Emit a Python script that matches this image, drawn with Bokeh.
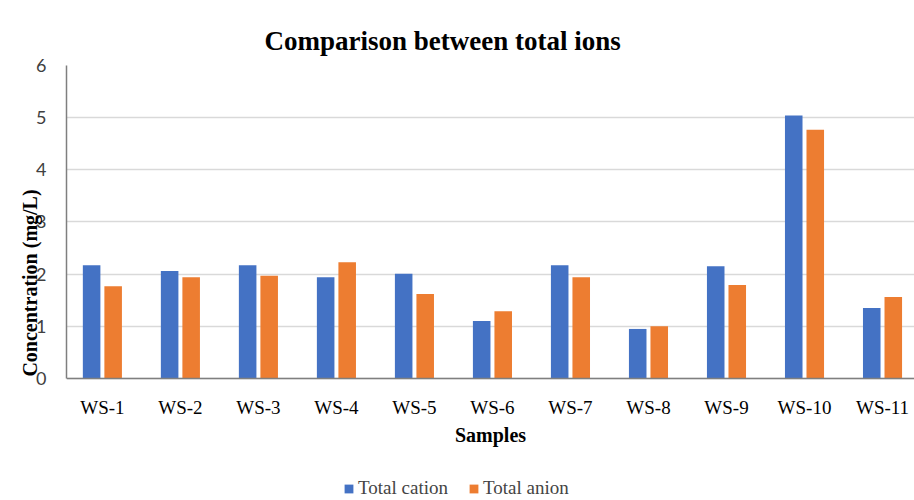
import numpy as np
from bokeh.plotting import figure
from bokeh.models import Range1d, FixedTicker, Legend, LegendItem, ColumnDataSource
from bokeh.transform import dodge
from bokeh.embed import file_html
from bokeh.resources import INLINE

samples = ["WS-1", "WS-2", "WS-3", "WS-4", "WS-5", "WS-6", "WS-7", "WS-8", "WS-9", "WS-10", "WS-11"]
total_cation = [2.17, 2.06, 2.17, 1.94, 2.01, 1.10, 2.17, 0.95, 2.15, 5.04, 1.35]
total_anion = [1.77, 1.94, 1.97, 2.23, 1.62, 1.29, 1.94, 1.00, 1.79, 4.77, 1.56]
y_ticks = [0, 1, 2, 3, 4, 5, 6]

BLUE = "#4472C4"
ORANGE = "#ED7D31"
SERIF = "Liberation Serif"

idx = np.arange(len(samples))
src = ColumnDataSource(dict(x=idx, cation=total_cation, anion=total_anion))

# frame runs from the plot top down to the page bottom, so the legend can sit inside it
p = figure(frame_width=848, frame_height=435, x_range=Range1d(-0.46, 10.41), y_range=Range1d(-2.3387, 6),
           output_backend="svg", toolbar_location=None,
           min_border_left=66, min_border_right=0, min_border_top=65, min_border_bottom=0)

r1 = p.vbar(x=dodge("x", -0.138), top="cation", width=0.225, source=src, fill_color=BLUE, line_color=None)
r2 = p.vbar(x=dodge("x", 0.138), top="anion", width=0.225, source=src, fill_color=ORANGE, line_color=None)

p.title.text = "Comparison between total ions"
p.title.text_font = SERIF
p.title.text_font_size = "27px"
p.title.text_font_style = "bold"
p.title.text_color = "#000000"
p.title.align = "left"
p.title.vertical_align = "top"
p.title.offset = 198
p.title.standoff = 16

p.outline_line_color = None
p.xgrid.grid_line_color = None
p.ygrid.grid_line_color = "#d9d9d9"
p.ygrid.grid_line_width = 1.5
p.ygrid.ticker = FixedTicker(ticks=y_ticks)

p.yaxis.ticker = FixedTicker(ticks=y_ticks)
p.yaxis.bounds = (0, 6)
p.yaxis.axis_label = "Concentration (mg/L)"
p.yaxis.axis_label_text_font = SERIF
p.yaxis.axis_label_text_font_style = "bold"
p.yaxis.axis_label_text_font_size = "20px"
p.yaxis.axis_label_text_color = "#000000"
p.yaxis.axis_label_standoff = -8
p.yaxis.major_label_text_font = "Lato"
p.yaxis.major_label_text_font_size = "18px"
p.yaxis.major_label_text_color = "#404040"
p.yaxis.major_label_standoff = 14
p.yaxis.major_tick_line_color = None
p.yaxis.minor_tick_line_color = None
p.yaxis.axis_line_color = "#7f7f7f"
p.yaxis.axis_line_width = 1.5

p.xaxis.fixed_location = 0
p.xaxis.ticker = FixedTicker(ticks=list(idx))
p.xaxis.major_label_overrides = {int(i): s for i, s in zip(idx, samples)}
p.xaxis.axis_label = "Samples"
p.xaxis.axis_label_text_font = SERIF
p.xaxis.axis_label_text_font_style = "bold"
p.xaxis.axis_label_text_font_size = "20px"
p.xaxis.axis_label_text_color = "#000000"
p.xaxis.axis_label_standoff = 2
p.xaxis.major_label_text_font = SERIF
p.xaxis.major_label_text_font_size = "19px"
p.xaxis.major_label_text_color = "#000000"
p.xaxis.major_label_standoff = 13
p.xaxis.major_tick_line_color = None
p.xaxis.minor_tick_line_color = None
p.xaxis.axis_line_color = "#7f7f7f"
p.xaxis.axis_line_width = 1.5

legend = Legend(items=[LegendItem(label="Total cation", renderers=[r1]),
                       LegendItem(label="Total anion", renderers=[r2])],
                orientation="horizontal", location=(277, 1),
                label_text_font=SERIF, label_text_font_size="19px",
                glyph_width=11, glyph_height=11, spacing=20, label_standoff=4,
                border_line_color=None, background_fill_alpha=0, margin=0, padding=2)
p.add_layout(legend, "center")

open("out.html", "w").write(file_html(p, INLINE))
